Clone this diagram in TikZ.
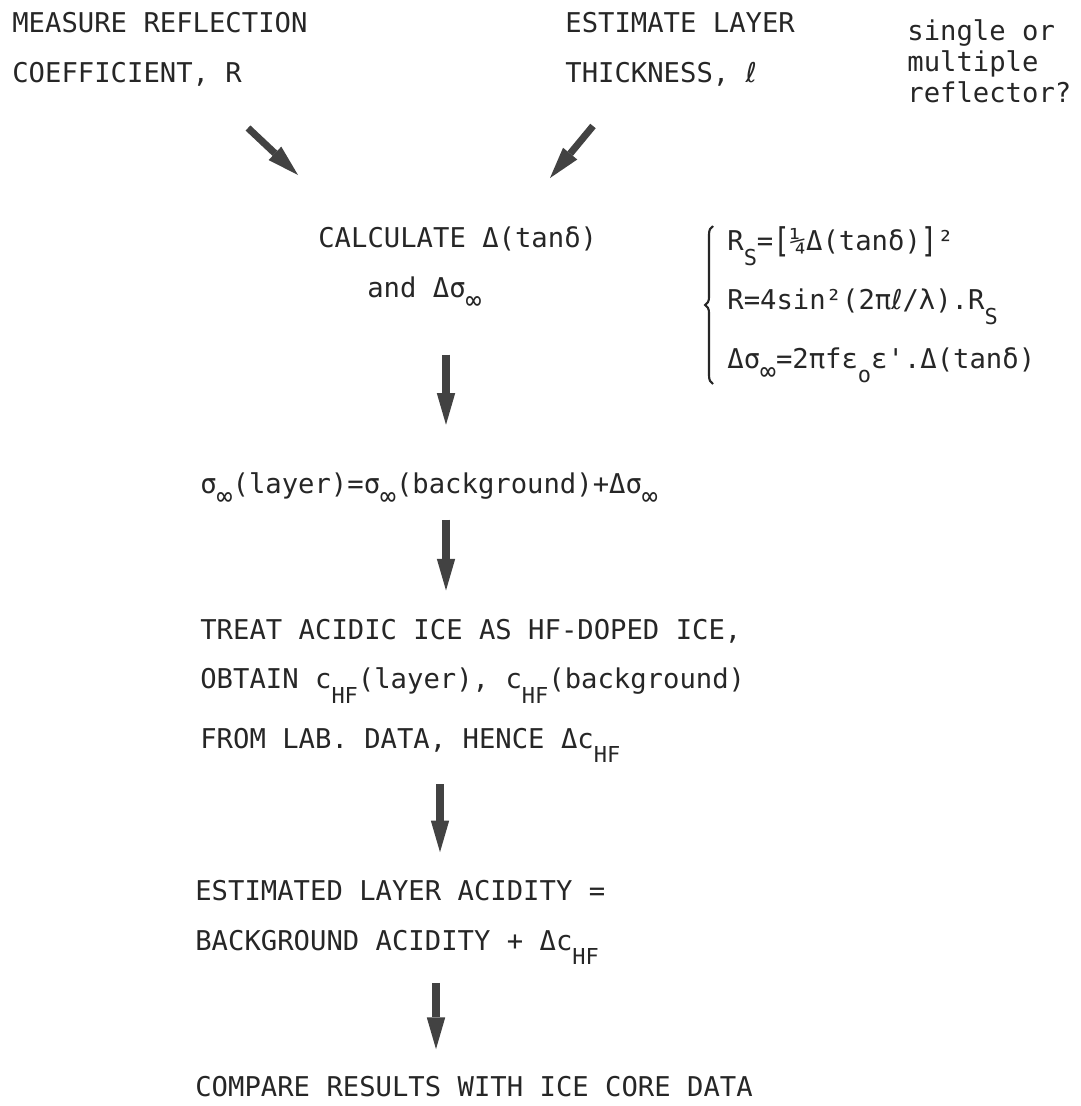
\documentclass[tikz,border=0pt]{standalone}
\usepackage{fontspec}
\usepackage{graphicx}
\setmonofont{DejaVu Sans Mono}
\newfontfamily\ellfont{DejaVu Sans}
\usetikzlibrary{arrows.meta,decorations.pathreplacing}

\definecolor{ink}{HTML}{262626}
\definecolor{arrowink}{HTML}{424242}

\newcommand{\lsub}[1]{\raisebox{-8.5pt}{\fontsize{12.5}{12.5}\selectfont #1}}
\newcommand{\infsub}{\raisebox{-7pt}{\fontsize{15}{15}\selectfont ∞}}
\newcommand{\tallbr}[1]{\raisebox{-1.5pt}{\scalebox{1}[1.25]{#1}}}
\newcommand{\elltxt}{{\ellfont ℓ}}

\tikzset{
  flowtext/.style={anchor=base west, inner sep=0pt, align=left, text=ink,
                   font=\ttfamily\fontsize{15.5}{28}\selectfont},
  flowarrow/.style={draw=arrowink, line width=4pt,
                    -{Triangle[length=18pt,width=10.5pt,line width=0pt]}}
}

\begin{document}
\begin{tikzpicture}[x=0.02cm, y=-0.02cm]
                    \useasboundingbox (0,0) rectangle (1080,1106);

                    \coordinate (spA) at (446,0);
                    \coordinate (spB) at (440,0);
                    \coordinate (spC) at (436,0);
                    \coordinate (mtail) at (248,128);
                    \coordinate (mtip)  at (298,175);
                    \coordinate (etail) at (593,126);
                    \coordinate (etip)  at (550,178);

                    \node [flowtext] (measure)  at (12,82)  {MEASURE REFLECTION\\COEFFICIENT, R};
                    \node [flowtext] (estimate) at (565,82) {ESTIMATE LAYER\\THICKNESS, \elltxt};
                    \node [flowtext, font=\ttfamily\fontsize{15.5}{17.5}\selectfont] (single) at (907,102) {single or\\multiple\\reflector?};

                    \node [flowtext] (calc)   at (318,247) {CALCULATE Δ(tanδ)};
                    \node [flowtext] (andtxt) at (367,297) {and Δσ\infsub};

                    \node [flowtext, font=\ttfamily\fontsize{15.5}{33.5}\selectfont] (eqs) at (727,368)
                          {R\lsub{S}=\tallbr{[}¼Δ(tanδ)\tallbr{]}²\\R=4sin²(2π\elltxt/λ).R\lsub{S}\\Δσ\infsub=2πfε\lsub{o}ε'.Δ(tanδ)};
                    \draw [ink, line width=1.2pt, decorate, decoration={brace, amplitude=4.5pt}] (713,384) -- (713,226);

                    \node [flowtext] (layer) at (200,493) {σ\infsub(layer)=σ\infsub(background)+Δσ\infsub};
                    \node [flowtext] (treat) at (200,748) {TREAT ACIDIC ICE AS HF-DOPED ICE,\\OBTAIN c\lsub{HF}(layer), c\lsub{HF}(background)\\[6pt]FROM LAB. DATA, HENCE Δc\lsub{HF}};
                    \node [flowtext] (acid) at (195,950) {ESTIMATED LAYER ACIDITY =\\BACKGROUND ACIDITY + Δc\lsub{HF}};
                    \node [flowtext] (compare) at (195,1096) {COMPARE RESULTS WITH ICE CORE DATA};

                    \draw [flowarrow] (mtail) -- (mtip);
                    \draw [flowarrow] (etail) -- (etip);
                    \draw [flowarrow, shorten <=25.6pt, shorten >=26.8pt] (andtxt.south -| spA) -- (layer.north -| spA);
                    \draw [flowarrow, shorten <=8pt, shorten >=16pt] (layer.south -| spA) -- (treat.north -| spA);
                    \draw [flowarrow, shorten <=12pt, shorten >=16pt] (treat.south -| spB) -- (acid.north -| spB);
                    \draw [flowarrow, shorten <=10pt, shorten >=15pt] (acid.south -| spC) -- (compare.north -| spC);
                \end{tikzpicture}
\end{document}
